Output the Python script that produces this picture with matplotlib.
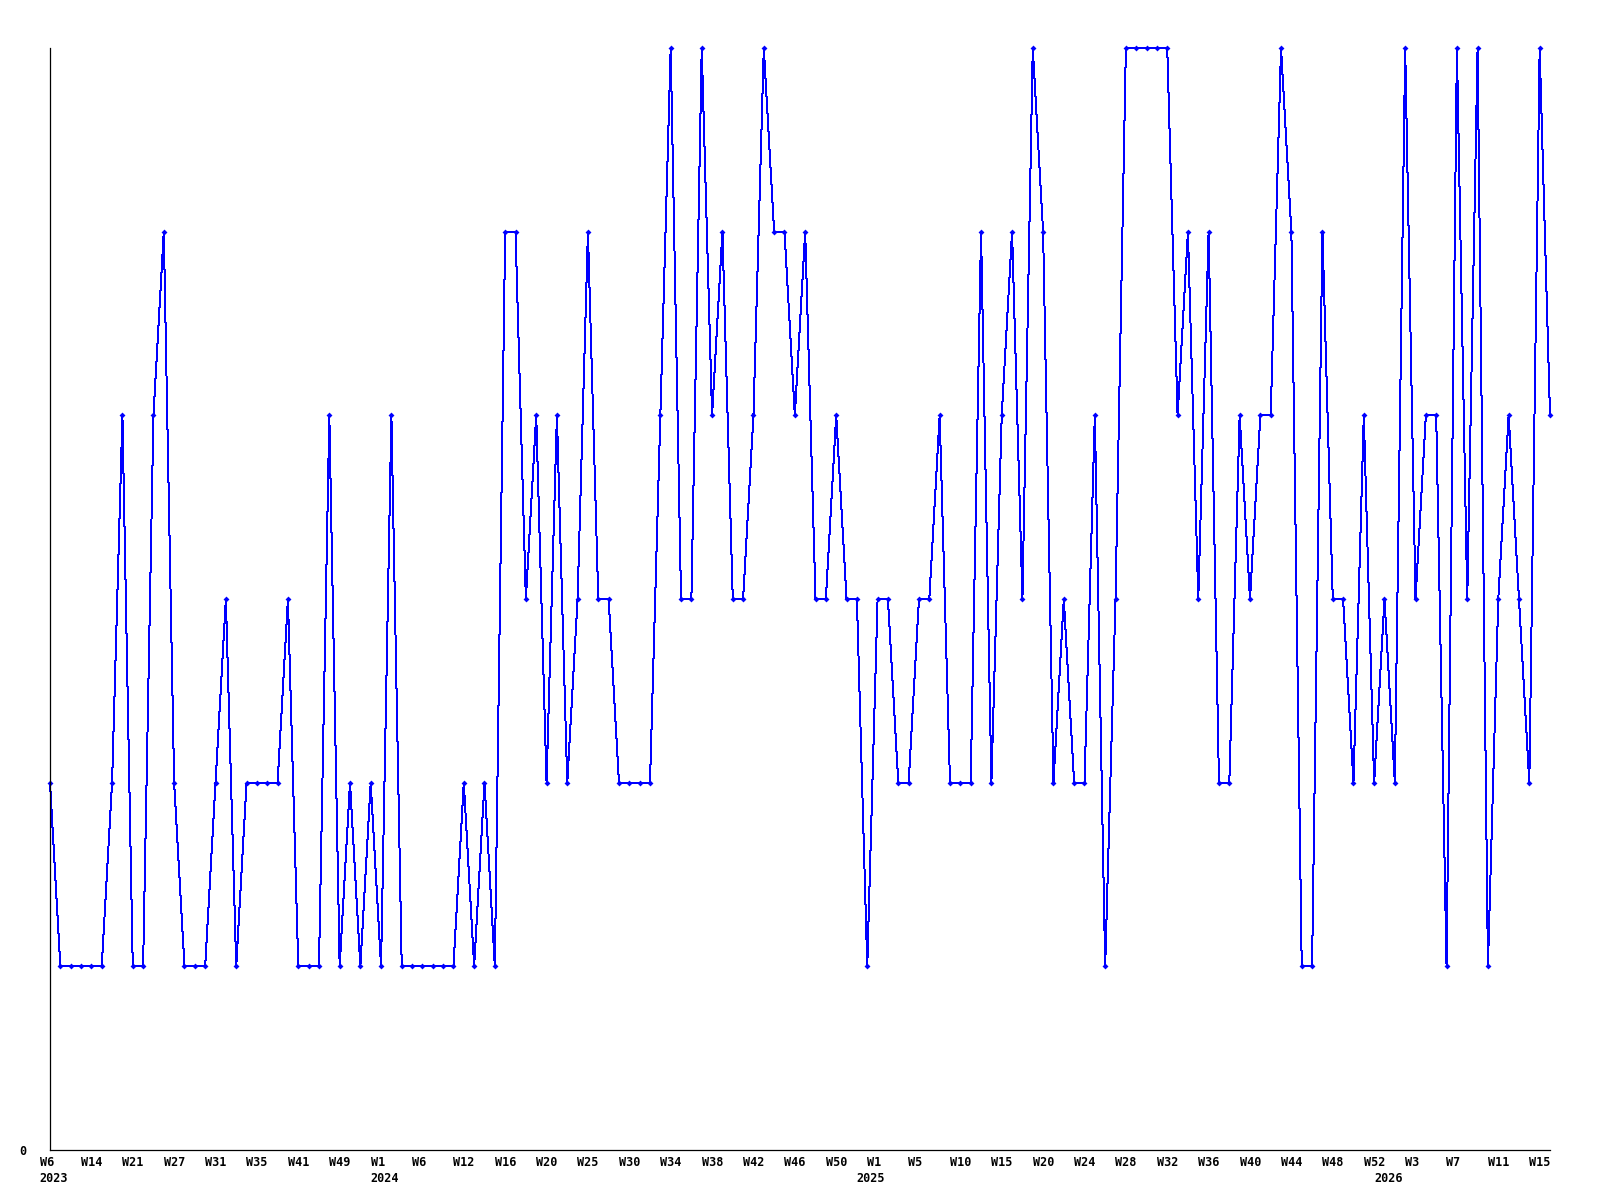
import matplotlib
matplotlib.use("Agg")
import matplotlib.pyplot as plt
from matplotlib.transforms import blended_transform_factory, offset_copy

# ---- data ----
values = [2, 1, 1, 1, 1, 1, 2, 4, 1, 1, 4, 5, 2, 1, 1, 1, 2, 3, 1, 2,
          2, 2, 2, 3, 1, 1, 1, 4, 1, 2, 1, 2, 1, 4, 1, 1, 1, 1, 1, 1,
          2, 1, 2, 1, 5, 5, 3, 4, 2, 4, 2, 3, 5, 3, 3, 2, 2, 2, 2, 4,
          6, 3, 3, 6, 4, 5, 3, 3, 4, 6, 5, 5, 4, 5, 3, 3, 4, 3, 3, 1,
          3, 3, 2, 2, 3, 3, 4, 2, 2, 2, 5, 2, 4, 5, 3, 6, 5, 2, 3, 2,
          2, 4, 1, 3, 6, 6, 6, 6, 6, 4, 5, 3, 5, 2, 2, 4, 3, 4, 4, 6,
          5, 1, 1, 5, 3, 3, 2, 4, 2, 3, 2, 6, 3, 4, 4, 1, 6, 3, 6, 1,
          3, 4, 3, 2, 6, 4]

week_labels = ["W6", "W14", "W21", "W27", "W31", "W35", "W41", "W49",
               "W1", "W6", "W12", "W16", "W20", "W25", "W30", "W34",
               "W38", "W42", "W46", "W50", "W1", "W5", "W10", "W15",
               "W20", "W24", "W28", "W32", "W36", "W40", "W44", "W48",
               "W52", "W3", "W7", "W11", "W15"]
week_label_step = 4

year_labels = ["2023", "2024", "2025", "2026"]
year_label_index = [0, 32, 79, 129]

# ---- figure ----
dpi = 100
fig = plt.figure(figsize=(16, 12), dpi=dpi)
ax = fig.add_axes([50 / 1600, 1 - 1150 / 1200, 1500 / 1600, 1102 / 1200])

x = list(range(len(values)))
ax.plot(x, values, color="#0000ff", linewidth=0.72, marker="D",
        markersize=3.0, markeredgewidth=0, antialiased=False, clip_on=False)

ax.set_xlim(0, len(values) - 1)
ax.set_ylim(0, 6)

for s in ["top", "right"]:
    ax.spines[s].set_visible(False)
for s in ["left", "bottom"]:
    ax.spines[s].set_color("black")
    ax.spines[s].set_linewidth(0.9)

ax.set_xticks([])
ax.set_yticks([0])
ax.set_yticklabels(["0"], fontfamily="DejaVu Sans Mono", fontweight="bold",
                   fontsize=8.5)
ax.tick_params(axis="y", length=0, pad=17)

font = dict(fontfamily="DejaVu Sans Mono", fontweight="bold", fontsize=8.5,
            ha="left", va="top")
trans = blended_transform_factory(ax.transData, ax.transAxes)
wk_trans = offset_copy(trans, fig=fig, x=-10.5, y=-6.5, units="dots")
yr_trans = offset_copy(trans, fig=fig, x=-10.5, y=-22.0, units="dots")

for i, lab in enumerate(week_labels):
    ax.text(i * week_label_step, 0, lab, transform=wk_trans, clip_on=False, **font)
for idx, lab in zip(year_label_index, year_labels):
    ax.text(idx, 0, lab, transform=yr_trans, clip_on=False, **font)

fig.savefig("out.png", dpi=dpi, facecolor="white")
